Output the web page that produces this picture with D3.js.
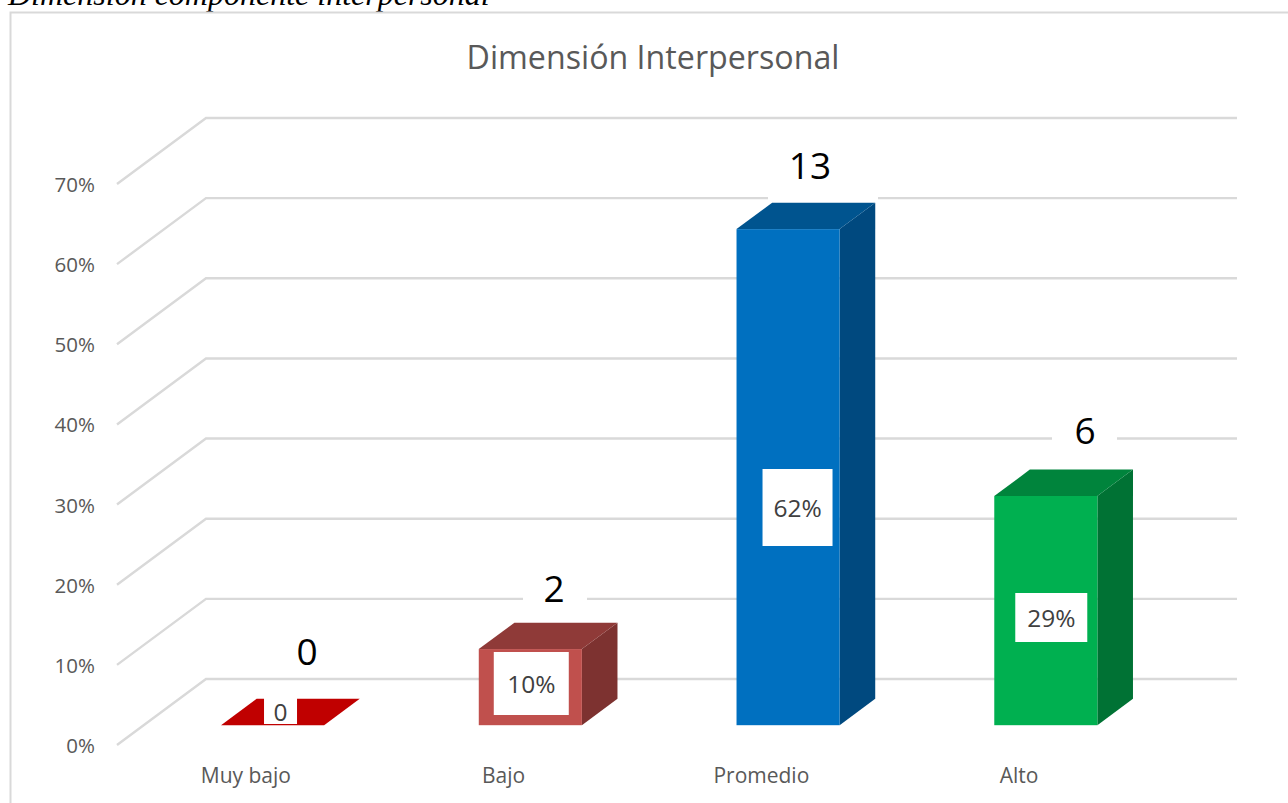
<!DOCTYPE html>
<html><head><meta charset="utf-8">
<script src="https://cdn.jsdelivr.net/npm/d3@7/dist/d3.min.js"></script>
<style>html,body{margin:0;padding:0;background:#fff;overflow:hidden}svg{display:block}</style>
</head><body><svg id="c" width="1288" height="803"></svg>
<script>
const categories = ["Muy bajo","Bajo","Promedio","Alto"];
const counts = [0,2,13,6];
const shares = [0,0.095,0.619,0.286];
const shareLabels = ["0","10%","62%","29%"];
const yTicks = [0,0.1,0.2,0.3,0.4,0.5,0.6,0.7];
const chartTitle = "Dimensión Interpersonal";
const caption = "Dimensión componente interpersonal";
const faceColors = ["#C00000","#C0504D","#0070C0","#00B050"];
const topColors  = ["#C00000","#8F3A38","#00548F","#00843C"];
const sideColors = ["#C00000","#7D3230","#00497F","#007234"];

const svg = d3.select("#c");
const grey = "#595959", gridC = "#d9d9d9";
const font = "'Open Sans','Noto Sans',sans-serif";
const depth = {dx:89, dy:-66};
const x = d3.scaleBand().domain(categories).range([117,1148]).paddingInner(0.6).paddingOuter(0.3);
const y = d3.scaleLinear().domain([0,0.7]).range([745,184]);
// projection: z is depth into the chart in [0,1]
const px = (c,z)=> x(c)+depth.dx*z;
const py = (v,z)=> y(v)+depth.dy*z;

svg.append("text").attr("x",8).attr("y",5).attr("font-family","'Liberation Serif',serif")
  .attr("font-style","italic").attr("font-size",32).attr("fill","#000").text(caption);
svg.append("path").attr("d","M1288,12.5H10.5V803").attr("fill","none").attr("stroke",gridC).attr("stroke-width",2);

svg.append("text").attr("x",653).attr("y",69).attr("text-anchor","middle").attr("font-family",font)
  .attr("font-size",32.2).attr("fill",grey).text(chartTitle);

// grid: side wall + back wall
const grid = svg.append("g").attr("fill","none").attr("stroke",gridC).attr("stroke-width",2.4);
yTicks.forEach(t=>{
  grid.append("path").attr("d",d3.line()([[117,y(t)],[117+depth.dx,y(t)+depth.dy],[1148+depth.dx,y(t)+depth.dy]]));
});

// value-axis and category-axis labels
const yAxis = svg.append("g").attr("transform","translate(101,1)")
  .call(d3.axisLeft(y).tickValues(yTicks).tickFormat(d3.format(".0%")).tickSize(0).tickPadding(6));
yAxis.select(".domain").remove();
yAxis.selectAll("text").attr("font-family",font).attr("font-size",20.5).attr("fill",grey);
const xAxis = svg.append("g").attr("transform","translate(0,768)")
  .call(d3.axisBottom(x).tickSize(0).tickPadding(0));
xAxis.select(".domain").remove();
xAxis.selectAll("text").attr("font-family",font).attr("font-size",21).attr("fill",grey);

// white boxes behind the count labels sit under the bars
const countBox=[null,[523,64,570,58],[768,110,146,62],[1052,65,408,46]];
countBox.forEach(b=>{
  if(b) svg.append("rect").attr("x",b[0]).attr("y",b[2]).attr("width",b[1]).attr("height",b[3]).attr("fill","#fff");
});

const frontZ=0.3, backZ=0.7;
const bars = svg.append("g");
categories.forEach((c,i)=>{
  const v=shares[i], w=x.bandwidth();
  const x0=px(c,frontZ), x1=x0+w, x2=px(c,backZ), x3=x2+w;
  const yb=py(0,frontZ), yt=py(v,frontZ), ytb=py(v,backZ), ybb=py(0,backZ);
  const g=bars.append("g");
  g.append("polygon").attr("points",[[x1,yb],[x3,ybb],[x3,ytb],[x1,yt]].join(" ")).attr("fill",sideColors[i]);
  g.append("polygon").attr("points",[[x0,yt],[x2,ytb],[x3,ytb],[x1,yt]].join(" ")).attr("fill",topColors[i]);
  if(v>0) g.append("rect").attr("x",x0).attr("y",yt).attr("width",w).attr("height",yb-yt).attr("fill",faceColors[i]);
});

// data labels: box offsets relative to each bar
const boxes = [
 {dx:43,w:33,cy:711,h:26,fs:24.5},
 {dx:15,w:75,cy:683.5,h:63,fs:24.5},
 {dx:26,w:70,cy:507.5,h:77,fs:24.5},
 {dx:21,w:72,cy:617.5,h:49,fs:24.5}
];
const countY=[652,589,166,431];
const countCx=[307,554,810,1085];
categories.forEach((c,i)=>{
  const b=boxes[i], bx=px(c,frontZ)+b.dx;
  svg.append("rect").attr("x",bx).attr("y",b.cy-b.h/2).attr("width",b.w).attr("height",b.h).attr("fill","#fff");
  svg.append("text").attr("x",bx+b.w/2).attr("y",b.cy+1).attr("dy","0.36em").attr("text-anchor","middle")
    .attr("font-family",font).attr("font-size",b.fs).attr("fill","#404040").text(shareLabels[i]);
  svg.append("text").attr("x",countCx[i]).attr("y",countY[i]).attr("dy","0.36em").attr("text-anchor","middle")
    .attr("font-family",font).attr("font-size",37).attr("fill","#000").text(counts[i]);
});
</script></body></html>
